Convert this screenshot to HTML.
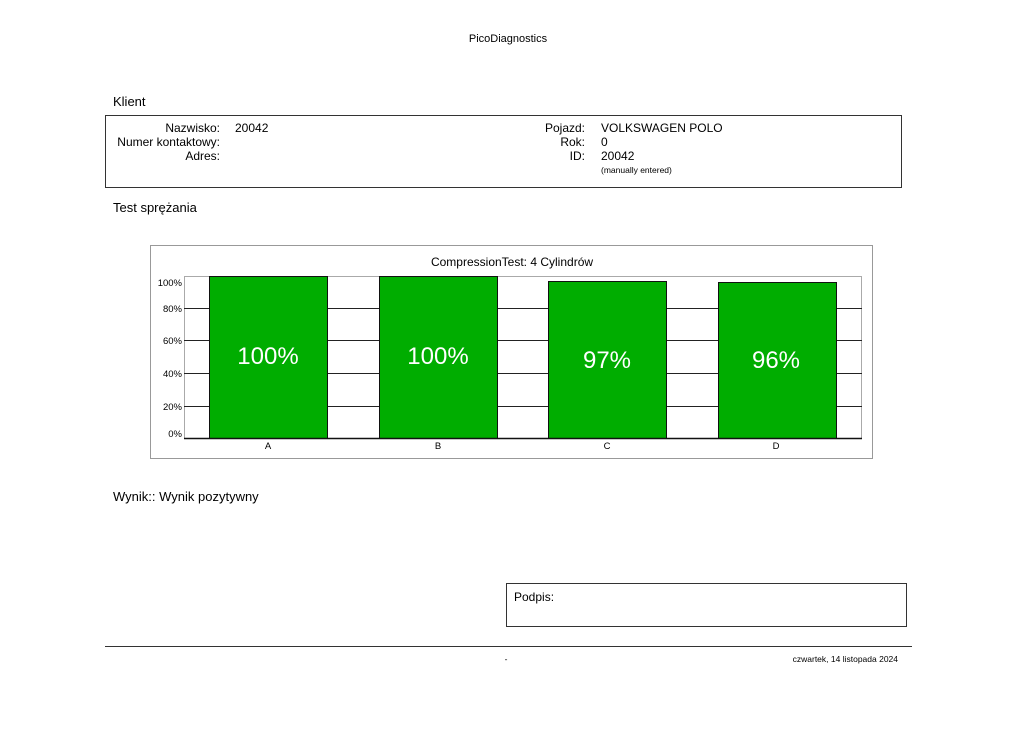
<!DOCTYPE html>
<html><head><meta charset="utf-8"><style>
body{margin:0;background:#fff;}
svg text{font-family:"Liberation Sans",sans-serif;}
</style></head><body>
<svg width="1023" height="724" viewBox="0 0 1023 724" xmlns="http://www.w3.org/2000/svg">
<rect width="1023" height="724" fill="#fff"/>
<text x="508" y="42" font-size="11" text-anchor="middle">PicoDiagnostics</text>
<text x="113" y="106" font-size="13">Klient</text>
<rect x="105.5" y="115.5" width="796" height="72" fill="none" stroke="#333" stroke-width="1"/>
<g font-size="12">
<text x="220" y="132" text-anchor="end">Nazwisko:</text>
<text x="235" y="132">20042</text>
<text x="220" y="146" text-anchor="end">Numer kontaktowy:</text>
<text x="220" y="160" text-anchor="end">Adres:</text>
<text x="585" y="132" text-anchor="end">Pojazd:</text>
<text x="601" y="132">VOLKSWAGEN POLO</text>
<text x="585" y="146" text-anchor="end">Rok:</text>
<text x="601" y="146">0</text>
<text x="585" y="160" text-anchor="end">ID:</text>
<text x="601" y="160">20042</text>
</g>
<text x="601" y="173" font-size="8.5">(manually entered)</text>
<text x="113" y="212" font-size="13">Test sprężania</text>
<rect x="150.5" y="245.5" width="722" height="213" fill="none" stroke="#999" stroke-width="1"/>
<text x="512" y="266" font-size="12" text-anchor="middle">CompressionTest: 4 Cylindrów</text>
<rect x="184.5" y="276.5" width="677" height="162" fill="none" stroke="#aaa" stroke-width="1"/>
<g stroke="#222" stroke-width="1">
<line x1="184" y1="308.5" x2="862" y2="308.5"/>
<line x1="184" y1="340.5" x2="862" y2="340.5"/>
<line x1="184" y1="373.5" x2="862" y2="373.5"/>
<line x1="184" y1="406.5" x2="862" y2="406.5"/>
</g>
<g fill="#00ad00" stroke="#111" stroke-width="1">
<rect x="209.5" y="276.5" width="118" height="162"/>
<rect x="379.5" y="276.5" width="118" height="162"/>
<rect x="548.5" y="281.5" width="118" height="157"/>
<rect x="718.5" y="282.5" width="118" height="156"/>
</g>
<line x1="184" y1="438.5" x2="862" y2="438.5" stroke="#111" stroke-width="1.5"/>
<g font-size="9.5" text-anchor="end">
<text x="182" y="286">100%</text>
<text x="182" y="312">80%</text>
<text x="182" y="344">60%</text>
<text x="182" y="377">40%</text>
<text x="182" y="410">20%</text>
<text x="182" y="437">0%</text>
</g>
<g font-size="9.5" text-anchor="middle">
<text x="268" y="449">A</text>
<text x="438" y="449">B</text>
<text x="607" y="449">C</text>
<text x="776" y="449">D</text>
</g>
<g font-size="24" fill="#fff" text-anchor="middle">
<text x="268" y="364">100%</text>
<text x="438" y="364">100%</text>
<text x="607" y="368">97%</text>
<text x="776" y="368">96%</text>
</g>
<text x="113" y="501" font-size="13">Wynik:: Wynik pozytywny</text>
<rect x="506.5" y="583.5" width="400" height="43" fill="none" stroke="#333" stroke-width="1"/>
<text x="514" y="601" font-size="12">Podpis:</text>
<line x1="105" y1="646.5" x2="912" y2="646.5" stroke="#333" stroke-width="1"/>
<text x="506" y="662" font-size="8.5" text-anchor="middle">-</text>
<text x="898" y="662" font-size="8.5" text-anchor="end">czwartek, 14 listopada 2024</text>
</svg>
</body></html>
